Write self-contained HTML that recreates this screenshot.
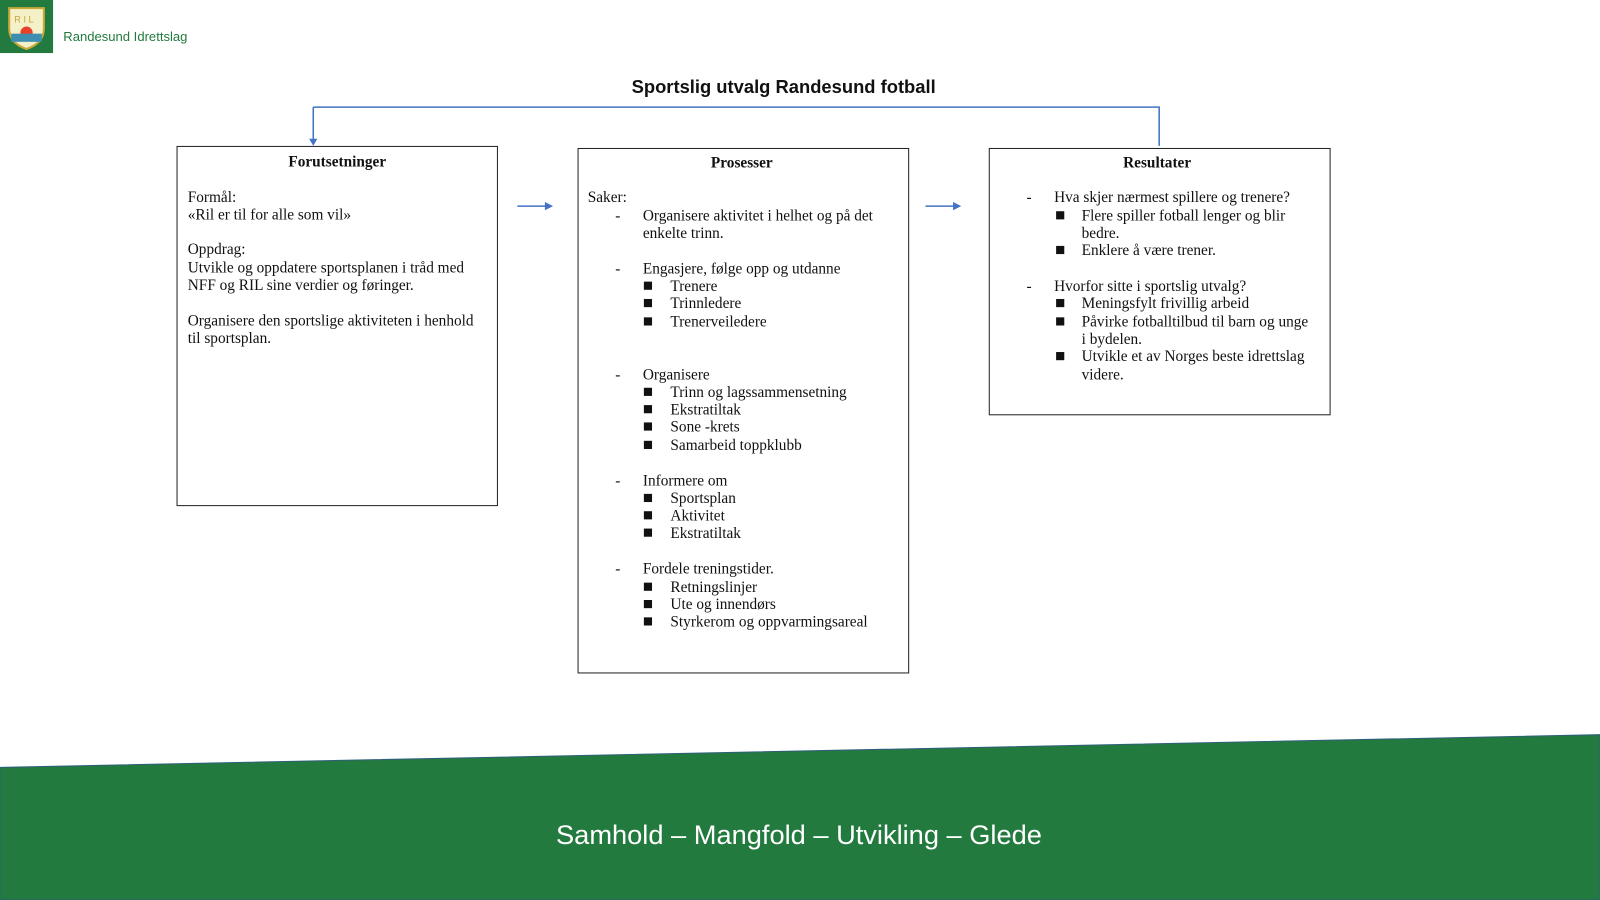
<!DOCTYPE html>
<html><head><meta charset="utf-8"><style>
html,body{margin:0;padding:0;width:1600px;height:900px;overflow:hidden;background:#fff}
#w{position:absolute;left:0;top:0;width:1568px;height:882px;transform:scale(1.0204);transform-origin:0 0}
.t{position:absolute;font-family:"Liberation Serif",serif;font-size:15px;line-height:18px;color:#111;white-space:nowrap;margin-top:1px}
.h{font-weight:bold;text-align:center}
.box{position:absolute;border:1.5px solid #222;box-sizing:border-box}
.sq{position:absolute;width:8px;height:8px;background:#111}
</style></head><body><div id="w">
<div style="position:absolute;left:0;top:0;width:52px;height:52px;background:#237a3e"></div>
<svg style="position:absolute;left:0;top:0" width="52" height="52">
<path d="M9 8 H43 V28 Q43 42 26 48 Q9 42 9 28 Z" fill="#f4f0c8" stroke="#c9a83a" stroke-width="2"/>
<circle cx="26" cy="32" r="6" fill="#e8402a"/>
<rect x="11" y="33" width="30" height="8" fill="#3c8fb0"/>
<text x="14" y="22" font-size="9" fill="#c9a83a" font-family="Liberation Sans">R I L</text>
</svg>
<div class="t" style="left:62px;top:26px;font-family:'Liberation Sans',sans-serif;font-size:12.8px;color:#237a3e">Randesund Idrettslag</div>
<div class="t" style="left:0;width:1536px;top:73px;text-align:center;font-family:'Liberation Sans',sans-serif;font-weight:bold;font-size:18px;line-height:22px">Sportslig utvalg Randesund fotball</div>
<svg style="position:absolute;left:0;top:0" width="1568" height="882">
<path d="M307 105 H1136 V143 M307 105 V138" stroke="#4472c4" stroke-width="1.5" fill="none"/>
<path d="M303 136 L311 136 L307 143 Z" fill="#4472c4"/>
<path d="M507 202 H535" stroke="#4472c4" stroke-width="1.5"/><path d="M534 198 L542 202 L534 206 Z" fill="#4472c4"/>
<path d="M907 202 H935" stroke="#4472c4" stroke-width="1.5"/><path d="M934 198 L942 202 L934 206 Z" fill="#4472c4"/>
</svg>
<div class="box" style="left:173px;top:143px;width:315px;height:353px"></div>
<div class="box" style="left:566px;top:145px;width:325px;height:515px"></div>
<div class="box" style="left:969px;top:145px;width:335px;height:262px"></div>
<div class="t h" style="left:173px;width:315px;top:149px">Forutsetninger</div>
<div class="t h" style="left:566px;width:322px;top:150px">Prosesser</div>
<div class="t h" style="left:969px;width:330px;top:150px">Resultater</div>
<div class="t" style="left:184px;top:184px">Formål:</div>
<div class="t" style="left:184px;top:201px">«Ril er til for alle som vil»</div>
<div class="t" style="left:184px;top:235px">Oppdrag:</div>
<div class="t" style="left:184px;top:253px">Utvikle og oppdatere sportsplanen i tråd med</div>
<div class="t" style="left:184px;top:270px">NFF og RIL sine verdier og føringer.</div>
<div class="t" style="left:184px;top:305px">Organisere den sportslige aktiviteten i henhold</div>
<div class="t" style="left:184px;top:322px">til sportsplan.</div>
<div class="t" style="left:576px;top:184px">Saker:</div>
<div class="t" style="left:603px;top:202px">-</div><div class="t" style="left:630px;top:202px">Organisere aktivitet i helhet og på det</div>
<div class="t" style="left:630px;top:219px">enkelte trinn.</div>
<div class="t" style="left:603px;top:254px">-</div><div class="t" style="left:630px;top:254px">Engasjere, følge opp og utdanne</div>
<div class="sq" style="left:631px;top:276px"></div><div class="t" style="left:657px;top:271px">Trenere</div>
<div class="sq" style="left:631px;top:293px"></div><div class="t" style="left:657px;top:288px">Trinnledere</div>
<div class="sq" style="left:631px;top:311px"></div><div class="t" style="left:657px;top:306px">Trenerveiledere</div>
<div class="t" style="left:603px;top:358px">-</div><div class="t" style="left:630px;top:358px">Organisere</div>
<div class="sq" style="left:631px;top:380px"></div><div class="t" style="left:657px;top:375px">Trinn og lagssammensetning</div>
<div class="sq" style="left:631px;top:397px"></div><div class="t" style="left:657px;top:392px">Ekstratiltak</div>
<div class="sq" style="left:631px;top:414px"></div><div class="t" style="left:657px;top:409px">Sone -krets</div>
<div class="sq" style="left:631px;top:432px"></div><div class="t" style="left:657px;top:427px">Samarbeid toppklubb</div>
<div class="t" style="left:603px;top:462px">-</div><div class="t" style="left:630px;top:462px">Informere om</div>
<div class="sq" style="left:631px;top:484px"></div><div class="t" style="left:657px;top:479px">Sportsplan</div>
<div class="sq" style="left:631px;top:501px"></div><div class="t" style="left:657px;top:496px">Aktivitet</div>
<div class="sq" style="left:631px;top:518px"></div><div class="t" style="left:657px;top:513px">Ekstratiltak</div>
<div class="t" style="left:603px;top:548px">-</div><div class="t" style="left:630px;top:548px">Fordele treningstider.</div>
<div class="sq" style="left:631px;top:571px"></div><div class="t" style="left:657px;top:566px">Retningslinjer</div>
<div class="sq" style="left:631px;top:588px"></div><div class="t" style="left:657px;top:583px">Ute og innendørs</div>
<div class="sq" style="left:631px;top:605px"></div><div class="t" style="left:657px;top:600px">Styrkerom og oppvarmingsareal</div>
<div class="t" style="left:1006px;top:184px">-</div><div class="t" style="left:1033px;top:184px">Hva skjer nærmest spillere og trenere?</div>
<div class="sq" style="left:1035px;top:207px"></div><div class="t" style="left:1060px;top:202px">Flere spiller fotball lenger og blir</div>
<div class="t" style="left:1060px;top:219px">bedre.</div>
<div class="sq" style="left:1035px;top:241px"></div><div class="t" style="left:1060px;top:236px">Enklere å være trener.</div>
<div class="t" style="left:1006px;top:271px">-</div><div class="t" style="left:1033px;top:271px">Hvorfor sitte i sportslig utvalg?</div>
<div class="sq" style="left:1035px;top:293px"></div><div class="t" style="left:1060px;top:288px">Meningsfylt frivillig arbeid</div>
<div class="sq" style="left:1035px;top:311px"></div><div class="t" style="left:1060px;top:306px">Påvirke fotballtilbud til barn og unge</div>
<div class="t" style="left:1060px;top:323px">i bydelen.</div>
<div class="sq" style="left:1035px;top:345px"></div><div class="t" style="left:1060px;top:340px">Utvikle et av Norges beste idrettslag</div>
<div class="t" style="left:1060px;top:358px">videre.</div>
<svg style="position:absolute;left:0;top:0" width="1568" height="882">
<path d="M0 752 L1568 720 V882 H0 Z" fill="#237a3e" stroke="#2f5f7a" stroke-width="1"/>
</svg>
<div class="t" style="left:0;width:1566px;top:800px;text-align:center;font-family:'Liberation Sans',sans-serif;font-size:26.7px;line-height:34px;color:#fff">Samhold – Mangfold – Utvikling – Glede</div>
</div></body></html>
